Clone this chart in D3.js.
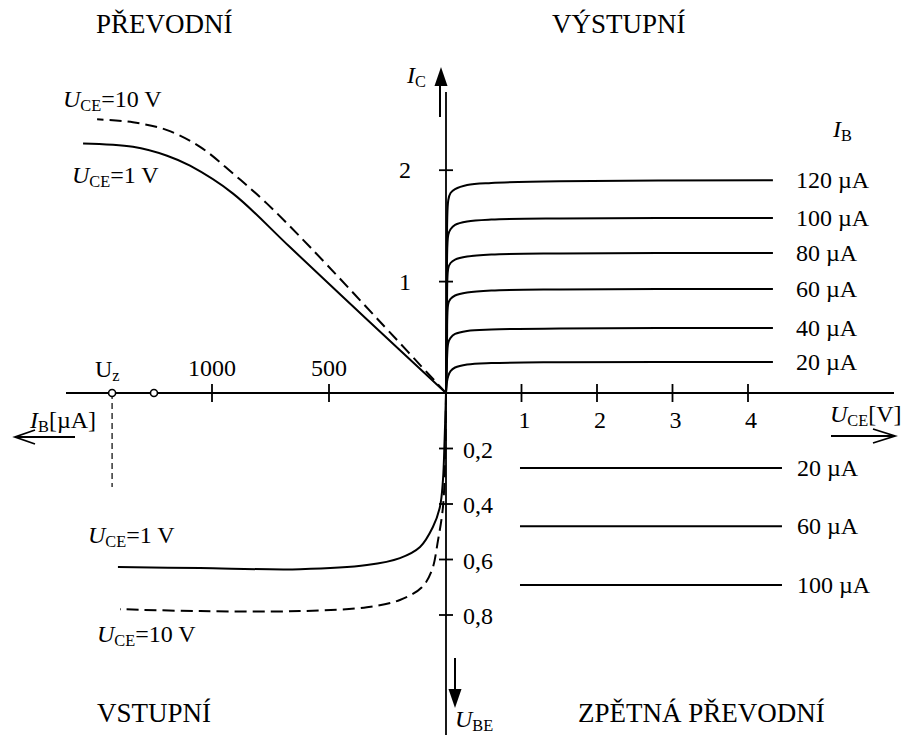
<!DOCTYPE html>
<html><head><meta charset="utf-8">
<script src="https://cdn.jsdelivr.net/npm/d3@7"></script>
<style>body{margin:0;background:#fff}svg{display:block}text{font-family:"Liberation Serif","Times New Roman",serif;fill:#000}</style>
</head><body><svg id="c" width="911" height="735"></svg>
<script>
// ---------------- data ----------------
const quadrantTitles = ["PŘEVODNÍ", "VÝSTUPNÍ", "VSTUPNÍ", "ZPĚTNÁ PŘEVODNÍ"];
const ibTicks = [500, 1000];
const icTicks = [1, 2];
const uceTicks = [1, 2, 3, 4];
const ubeTicks = [0.2, 0.4, 0.6, 0.8];
const ubeTickLabels = ["0,2", "0,4", "0,6", "0,8"];

// output characteristics I_C(U_CE) for several I_B
const outIB = [20, 40, 60, 80, 100, 120];
const outUce   = [0, 0.013, 0.03, 0.06, 0.12, 0.28, 0.6, 1.5, 4.33];
const outIc20  = [0, 0.10, 0.153, 0.197, 0.229, 0.256, 0.269, 0.276, 0.278];
const outIc40  = [0, 0.30, 0.449, 0.494, 0.530, 0.557, 0.570, 0.580, 0.583];
const outIc60  = [0, 0.45, 0.800, 0.844, 0.875, 0.902, 0.920, 0.930, 0.934];
const outIc80  = [0, 0.60, 1.120, 1.167, 1.198, 1.225, 1.243, 1.253, 1.257];
const outIc100 = [0, 0.70, 1.420, 1.470, 1.510, 1.540, 1.557, 1.567, 1.570];
const outIc120 = [0, 0.835, 1.730, 1.795, 1.830, 1.867, 1.885, 1.900, 1.910];

// transfer characteristics I_C(I_B)
const transIB1  = [0, 333, 667, 910, 1094, 1192, 1338, 1551];
const transIC1  = [0, 0.65, 1.31, 1.79, 2.04, 2.13, 2.21, 2.24];
const transIB10 = [0, 282, 581, 765, 910, 1051, 1192, 1338, 1491];
const transIC10 = [0, 0.64, 1.31, 1.70, 1.97, 2.21, 2.36, 2.43, 2.457];

// input characteristics U_BE(I_B)
const inIB1   = [0, 6, 13, 26, 56, 111, 197, 338, 624, 1051, 1402];
const inUBE1  = [0, 0.169, 0.314, 0.411, 0.483, 0.555, 0.595, 0.620, 0.635, 0.631, 0.627];
const inIB10  = [0, 4, 13, 34, 60, 103, 197, 338, 624, 1051, 1393];
const inUBE10 = [0, 0.242, 0.411, 0.530, 0.638, 0.700, 0.746, 0.772, 0.786, 0.786, 0.779];

// reverse transfer U_BE(U_CE)
const fbIB = [20, 60, 100];
const fbUBE = [0.270, 0.480, 0.692];
const fbUce = [0.98, 4.45];

// markers on I_B axis
const markIB = [1427, 1248];

// ---------------- drawing ----------------
const svg = d3.select("#c");
const xIB = d3.scaleLinear().domain([0, 1000]).range([446, 212]);
const xUCE = d3.scaleLinear().domain([0, 4]).range([446, 748]);
const yIC = d3.scaleLinear().domain([0, 2]).range([393, 170.2]);
const yUBE = d3.scaleLinear().domain([0, 0.8]).range([393, 615]);
const X0 = xUCE(0), Y0 = yIC(0);
const curve = d3.curveCatmullRom.alpha(0.5);
const LW = 2;
const DASH = "12,6";

// axes
svg.append("line").attr("x1", 66).attr("x2", 894).attr("y1", Y0).attr("y2", Y0)
  .attr("stroke", "#000").attr("stroke-width", 1.8);
svg.append("line").attr("x1", X0).attr("x2", X0).attr("y1", 92).attr("y2", 735)
  .attr("stroke", "#000").attr("stroke-width", 1.8);

// ticks
const tk = svg.append("g").attr("stroke", "#000").attr("stroke-width", 1.8);
ibTicks.forEach(v => tk.append("line").attr("x1", xIB(v)).attr("x2", xIB(v)).attr("y1", Y0 - 9).attr("y2", Y0 + 9));
uceTicks.forEach(v => tk.append("line").attr("x1", xUCE(v)).attr("x2", xUCE(v)).attr("y1", Y0 - 9).attr("y2", Y0 + 9));
icTicks.forEach(v => tk.append("line").attr("x1", X0 - 7).attr("x2", X0 + 7).attr("y1", yIC(v)).attr("y2", yIC(v)));
ubeTicks.forEach(v => tk.append("line").attr("x1", X0 - 7).attr("x2", X0 + 7).attr("y1", yUBE(v)).attr("y2", yUBE(v)));

const FS = 24;
function rich(x, y, parts, size, anchor) {
  size = size || FS;
  const t = svg.append("text").attr("x", x).attr("y", y).attr("font-size", size)
    .attr("text-anchor", anchor || "start");
  let shifted = 0;
  parts.forEach(p => {
    const s = t.append("tspan").text(p.t);
    if (p.i) s.attr("font-style", "italic");
    if (p.sub) { s.attr("font-size", size * 0.68).attr("dy", 4 - shifted); shifted = 4; }
    else if (shifted) { s.attr("dy", -shifted); shifted = 0; }
  });
  return t;
}

// tick labels
ibTicks.forEach(v => rich(xIB(v), 376, [{t: String(v)}], FS, "middle"));
uceTicks.forEach(v => rich(xUCE(v) + 3, 428, [{t: String(v)}], FS, "middle"));
icTicks.forEach(v => rich(405, yIC(v) + 8, [{t: String(v)}], FS, "middle"));
ubeTicks.forEach((v, i) => rich(463, yUBE(v) + 9, [{t: ubeTickLabels[i]}]));

// output curves
const outIc = [outIc20, outIc40, outIc60, outIc80, outIc100, outIc120];
const lineOut = d3.line().x(d => xUCE(d[0])).y(d => yIC(d[1])).curve(curve);
outIc.forEach((ser, k) => {
  const pts = outUce.map((u, i) => [u, ser[i]]);
  svg.append("path").attr("d", lineOut(pts)).attr("fill", "none").attr("stroke", "#000").attr("stroke-width", LW);
  rich(xUCE(outUce[outUce.length - 1]) + 23, yIC(ser[ser.length - 1]) + 8, [{t: outIB[k] + " µA"}]);
});
rich(833, 137, [{t: "I", i: 1}, {t: "B", sub: 1}]);

// transfer curves
const lineTr = d3.line().x(d => xIB(d[0])).y(d => yIC(d[1])).curve(curve);
svg.append("path").attr("d", lineTr(transIB1.map((v, i) => [v, transIC1[i]])))
  .attr("fill", "none").attr("stroke", "#000").attr("stroke-width", LW);
svg.append("path").attr("d", lineTr(transIB10.map((v, i) => [v, transIC10[i]])))
  .attr("fill", "none").attr("stroke", "#000").attr("stroke-width", LW).attr("stroke-dasharray", DASH);

// input curves
const lineIn = d3.line().x(d => xIB(d[0])).y(d => yUBE(d[1])).curve(curve);
svg.append("path").attr("d", lineIn(inIB1.map((v, i) => [v, inUBE1[i]])))
  .attr("fill", "none").attr("stroke", "#000").attr("stroke-width", LW);
svg.append("path").attr("d", lineIn(inIB10.map((v, i) => [v, inUBE10[i]])))
  .attr("fill", "none").attr("stroke", "#000").attr("stroke-width", LW).attr("stroke-dasharray", DASH);

// reverse transfer lines
fbUBE.forEach((u, k) => {
  svg.append("line").attr("x1", xUCE(fbUce[0])).attr("x2", xUCE(fbUce[1]))
    .attr("y1", yUBE(u)).attr("y2", yUBE(u)).attr("stroke", "#000").attr("stroke-width", LW);
  rich(xUCE(fbUce[1]) + 15, yUBE(u) + 8, [{t: fbIB[k] + " µA"}]);
});

// markers
svg.append("line").attr("x1", xIB(markIB[0])).attr("x2", xIB(markIB[0])).attr("y1", Y0).attr("y2", 487)
  .attr("stroke", "#000").attr("stroke-width", 1.2).attr("stroke-dasharray", "6,4");
markIB.forEach(v => svg.append("circle").attr("cx", xIB(v)).attr("cy", Y0).attr("r", 3.5)
  .attr("fill", "#fff").attr("stroke", "#000").attr("stroke-width", 1.6));
rich(95, 377, [{t: "U"}, {t: "z", sub: 1}]);

// curve labels
rich(63, 107, [{t: "U", i: 1}, {t: "CE", sub: 1}, {t: "=10 V"}]);
rich(72, 183, [{t: "U", i: 1}, {t: "CE", sub: 1}, {t: "=1 V"}]);
rich(88, 543, [{t: "U", i: 1}, {t: "CE", sub: 1}, {t: "=1 V"}]);
rich(97, 642, [{t: "U", i: 1}, {t: "CE", sub: 1}, {t: "=10 V"}]);

// axis labels & arrows
rich(407, 83, [{t: "I", i: 1}, {t: "C", sub: 1}]);
svg.append("line").attr("x1", 440).attr("x2", 440).attr("y1", 84).attr("y2", 117).attr("stroke", "#000").attr("stroke-width", 2);
svg.append("path").attr("d", "M441,67 L434.5,86 L447.5,86 Z").attr("fill", "#000");

svg.append("line").attr("x1", 455).attr("x2", 455).attr("y1", 658).attr("y2", 691).attr("stroke", "#000").attr("stroke-width", 2);
svg.append("path").attr("d", "M455,708 L448.5,689 L461.5,689 Z").attr("fill", "#000");
rich(455, 727, [{t: "U", i: 1}, {t: "BE", sub: 1}]);

rich(30, 428, [{t: "I", i: 1}, {t: "B", sub: 1}, {t: "[µA]"}]);
svg.append("path").attr("d", "M75,437 L15,437 M35,430 L15,437 L35,444").attr("fill", "none").attr("stroke", "#000").attr("stroke-width", 1.8);
rich(830, 422, [{t: "U", i: 1}, {t: "CE", sub: 1}, {t: "[V]"}]);
svg.append("path").attr("d", "M831,436 L895,436 M873,429 L895,436 L873,443").attr("fill", "none").attr("stroke", "#000").attr("stroke-width", 1.8);

// quadrant titles
const TS = 27;
rich(96, 33, [{t: quadrantTitles[0]}], TS);
rich(552, 33, [{t: quadrantTitles[1]}], TS);
rich(97, 722, [{t: quadrantTitles[2]}], TS);
rich(578, 722, [{t: quadrantTitles[3]}], TS);
</script></body></html>
